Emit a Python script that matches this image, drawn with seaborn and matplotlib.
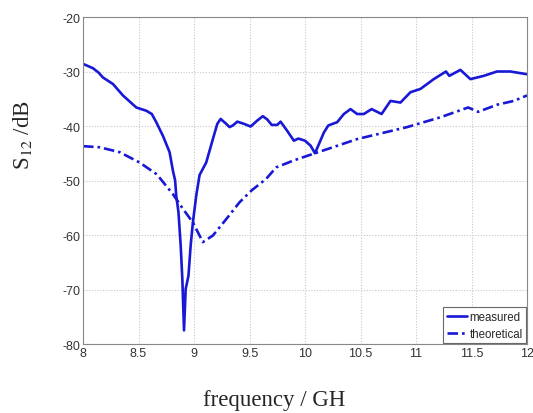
import matplotlib
matplotlib.use("Agg")
import matplotlib.pyplot as plt
import seaborn as sns
import pandas as pd

meas_f = [8.00, 8.09, 8.14, 8.18, 8.27, 8.36, 8.48, 8.57, 8.62, 8.66, 8.72, 8.78, 8.81, 8.83,
          8.84, 8.86, 8.88, 8.895, 8.91, 8.925, 8.95, 8.97, 8.99, 9.02, 9.05, 9.11, 9.17, 9.21,
          9.24, 9.29, 9.32, 9.35, 9.39, 9.45, 9.51, 9.57, 9.62, 9.66, 9.70, 9.75, 9.78, 9.84,
          9.90, 9.94, 10.00, 10.05, 10.09, 10.17, 10.21, 10.29, 10.35, 10.41, 10.47, 10.53,
          10.60, 10.69, 10.77, 10.86, 10.95, 11.04, 11.16, 11.27, 11.30, 11.40, 11.49, 11.61,
          11.73, 11.85, 12.00]
meas_db = [-28.6, -29.4, -30.2, -31.1, -32.3, -34.4, -36.6, -37.2, -37.8, -39.3, -41.8, -44.8,
           -48.2, -50.0, -52.8, -55.8, -61.9, -68.1, -77.5, -69.9, -67.5, -61.9, -57.7, -52.8,
           -49.0, -46.7, -42.4, -39.6, -38.7, -39.6, -40.2, -39.9, -39.2, -39.6, -40.1, -39.0,
           -38.2, -38.8, -39.8, -39.8, -39.2, -40.9, -42.7, -42.3, -42.7, -43.6, -45.0, -41.2,
           -39.9, -39.3, -37.8, -36.9, -37.8, -37.8, -36.9, -37.8, -35.4, -35.7, -33.8, -33.2,
           -31.4, -30.0, -30.8, -29.7, -31.4, -30.8, -30.0, -30.0, -30.5]

theo_f = [8.00, 8.15, 8.33, 8.51, 8.66, 8.69, 8.81, 8.90, 8.99, 9.08, 9.17, 9.29, 9.41, 9.52,
          9.65, 9.74, 9.90, 10.09, 10.47, 10.92, 11.22, 11.47, 11.56, 11.73, 11.88, 12.00]
theo_db = [-43.7, -43.9, -44.8, -46.7, -48.8, -49.5, -52.5, -55.2, -57.7, -61.3, -60.1, -57.1,
           -54.0, -51.8, -49.7, -47.6, -46.3, -45.0, -42.4, -40.2, -38.4, -36.6, -37.4, -36.1,
           -35.4, -34.4]

series_names = ["measured", "theoretical"]
x_ticks = [8, 8.5, 9, 9.5, 10, 10.5, 11, 11.5, 12]
x_ticklabels = ["8", "8.5", "9", "9.5", "10", "10.5", "11", "11.5", "12"]
y_ticks = [-80, -70, -60, -50, -40, -30, -20]
y_ticklabels = ["-80", "-70", "-60", "-50", "-40", "-30", "-20"]

df = pd.concat([
    pd.DataFrame({"f": meas_f, "db": meas_db, "series": series_names[0]}),
    pd.DataFrame({"f": theo_f, "db": theo_db, "series": series_names[1]}),
], ignore_index=True)

sns.set_style("white")
plt.rcParams["font.family"] = ["Liberation Sans", "DejaVu Sans"]
plt.rcParams["axes.unicode_minus"] = False

fig = plt.figure(figsize=(5.33, 4.14), dpi=100)
ax = fig.add_axes([83 / 533, 1 - 345 / 414, 444 / 533, 327 / 414])

blue = "#1818d6"
sns.lineplot(data=df, x="f", y="db", hue="series", style="series",
             palette={series_names[0]: blue, series_names[1]: blue},
             dashes={series_names[0]: "", series_names[1]: (4, 1.5, 1, 1.5)},
             linewidth=1.9, ax=ax, sort=False, estimator=None)

ax.set_xlim(8, 12)
ax.set_ylim(-80, -20)
ax.set_xticks(x_ticks)
ax.set_xticklabels(x_ticklabels)
ax.set_yticks(y_ticks)
ax.set_yticklabels(y_ticklabels)
ax.grid(True, linestyle=(0, (1, 1.5)), color="#c8c8c8", linewidth=0.8)
ax.tick_params(axis="both", direction="in", length=3, labelsize=9,
               labelcolor="#333333", color="#888888", pad=2)
for s in ax.spines.values():
    s.set_color("#888888")
    s.set_linewidth(0.8)
ax.set_xlabel("")
ax.set_ylabel("")

leg = ax.legend(loc="lower right", fontsize=8.3, frameon=True, fancybox=False,
                borderaxespad=0.05, handlelength=1.8, handletextpad=0.2,
                borderpad=0.3, labelspacing=0.45)
leg.get_frame().set_edgecolor("#444444")
leg.get_frame().set_linewidth(0.8)

fig.text(23 / 533, 1 - 135 / 414, "S$_{12}$ /dB", rotation=90, ha="center", va="center",
         fontsize=16.5, family=["Liberation Serif", "DejaVu Serif"], math_fontfamily="stix")
fig.text(274 / 533, 1 - 401 / 414, "frequency / GH", ha="center", va="center",
         fontsize=16.5, family=["Liberation Serif", "DejaVu Serif"])

fig.savefig("out.png", dpi=100)
